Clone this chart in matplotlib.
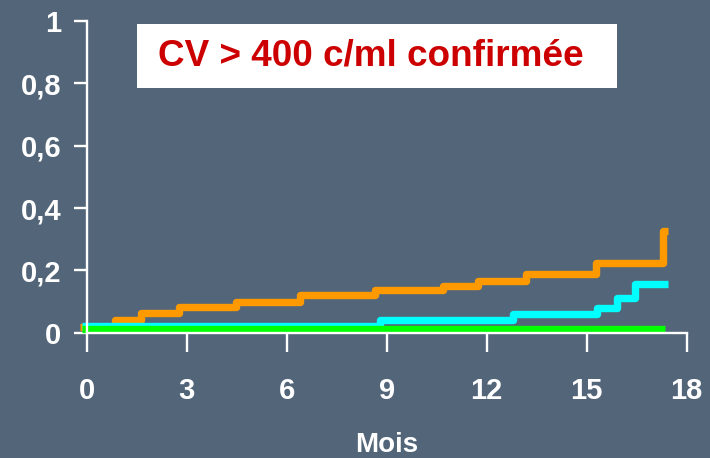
import matplotlib.pyplot as plt
from matplotlib.patches import Rectangle

# step curves (months, cumulative probability)
orange_x = [-0.2, 0.85, 1.62, 2.77, 4.47, 6.4, 8.65, 10.7, 11.75, 13.18, 15.28, 17.28, 17.45]
orange_y = [0.018, 0.041, 0.062, 0.082, 0.097, 0.120, 0.136, 0.150, 0.167, 0.188, 0.225, 0.325, 0.325]
cyan_x = [-0.14, 8.8, 12.78, 15.3, 15.9, 16.45, 17.45]
cyan_y = [0.020, 0.041, 0.060, 0.079, 0.111, 0.157, 0.157]
green_x = [-0.14, 17.35]
green_y = [0.013, 0.013]

xticks = [0, 3, 6, 9, 12, 15, 18]
yticks = [0, 0.2, 0.4, 0.6, 0.8, 1]
ylabels = ['0', '0,2', '0,4', '0,6', '0,8', '1']
title = 'CV > 400 c/ml confirmée'

bg = '#536679'
plt.rcParams['font.family'] = ['Liberation Sans', 'DejaVu Sans']
plt.rcParams['font.weight'] = 'bold'

fig = plt.figure(figsize=(7.1, 4.58), dpi=100, facecolor=bg)
ax = fig.add_axes([86.7/710, 1 - 332.7/458, 600/710, 311.7/458])
ax.set_facecolor(bg)

for xs, ys, c in [(orange_x, orange_y, '#FF9900'), (cyan_x, cyan_y, '#00FFFF'), (green_x, green_y, '#00FF00')]:
    ax.plot(xs, ys, drawstyle='steps-post', color=c, lw=5.3,
            solid_joinstyle='round', solid_capstyle='butt', clip_on=False)

ax.set_xlim(0, 18)
ax.set_ylim(0, 1)
for s in ['top', 'right']:
    ax.spines[s].set_visible(False)
for s in ['left', 'bottom']:
    ax.spines[s].set_color('white')
    ax.spines[s].set_linewidth(1.7)

ax.set_xticks(xticks)
ax.set_xticklabels([str(t) for t in xticks])
ax.set_yticks(yticks)
ax.set_yticklabels(ylabels)
ax.tick_params(axis='y', colors='white', length=9.5, width=1.7, pad=9, labelsize=21)
ax.tick_params(axis='x', colors='white', length=14, width=1.7, pad=18, labelsize=21)
ax.set_xlabel('Mois', color='white', fontsize=20, fontweight='bold', labelpad=19)

ax.add_patch(Rectangle((0.084, 0.786), 0.8, 0.204, transform=ax.transAxes,
                       facecolor='white', edgecolor='none', clip_on=False))
ax.text(0.119, 0.888, title, transform=ax.transAxes, color='#CC0000',
        fontsize=26.6, fontweight='bold', ha='left', va='center')

fig.savefig('out.png', dpi=100, facecolor=bg)
